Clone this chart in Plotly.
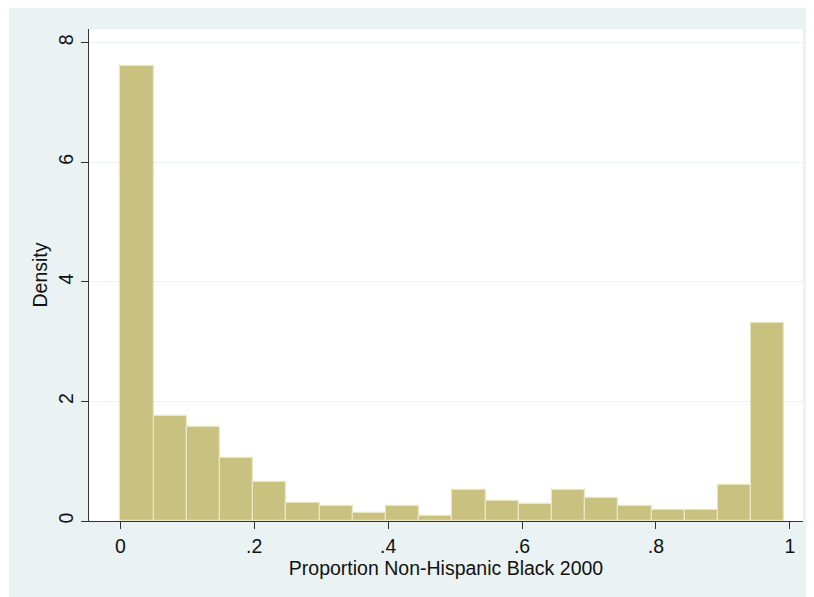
import numpy as np
import plotly.graph_objects as go

# Histogram of proportion Non-Hispanic Black 2000 (20 bins, density)
bin_start = 0.0
bin_width = 0.0496
densities = [7.61, 1.75, 1.57, 1.05, 0.66, 0.30, 0.25, 0.13, 0.25, 0.08,
             0.525, 0.34, 0.29, 0.525, 0.39, 0.25, 0.18, 0.18, 0.61, 3.32]
x_tick_vals = [0, 0.2, 0.4, 0.6, 0.8, 1]
x_tick_text = ["0", ".2", ".4", ".6", ".8", "1"]
y_tick_vals = [0, 2, 4, 6, 8]
y_tick_text = ["0", "2", "4", "6", "8"]

centers = bin_start + bin_width * (np.arange(len(densities)) + 0.5)

# page has an 8px body margin, so the figure is drawn at (8, 8)
W, H = 806, 589
L, R, T, B = 81, 11, 21, 76

fig = go.Figure()
fig.add_trace(go.Bar(
    x=centers, y=densities, width=bin_width,
    marker=dict(color="#C9C17F", line=dict(color="#EAE6C2", width=1.2)),
    hoverinfo="skip",
))

font = dict(family="Liberation Sans, Arial, sans-serif", size=20, color="#111111")

fig.update_layout(
    width=W, height=H,
    margin=dict(l=L, r=R, t=T, b=B),
    paper_bgcolor="white",
    plot_bgcolor="white",
    showlegend=False,
    bargap=0,
    font=font,
    xaxis=dict(
        range=[-0.0468, 1.0197],
        tickvals=x_tick_vals, ticktext=x_tick_text,
        ticks="outside", ticklen=7, tickwidth=1.3, tickcolor="#333333",
        showline=True, linecolor="#333333", linewidth=1.3,
        showgrid=False, zeroline=False,
        title=dict(text="Proportion Non-Hispanic Black 2000", standoff=0,
                   font=dict(size=19.5)),
        tickfont=dict(size=19.5),
    ),
    yaxis=dict(
        range=[0, 8.23],
        tickvals=y_tick_vals, ticktext=y_tick_text,
        tickangle=-90,
        ticks="outside", ticklen=7, tickwidth=1.3, tickcolor="#333333",
        showline=True, linecolor="#333333", linewidth=1.3,
        showgrid=True, gridcolor="#EAF2F3", gridwidth=1.2,
        zeroline=False,
        title=dict(text="Density", standoff=2, font=dict(size=19.5)),
        tickfont=dict(size=19.5),
    ),
)

# outer graph region background (Stata style)
pw, ph = W - L - R, H - T - B
fig.add_shape(type="rect", xref="paper", yref="paper",
              x0=(1 - L) / pw, x1=(W - L) / pw,
              y0=-B / ph, y1=1 + T / ph,
              fillcolor="#EAF2F3", line=dict(width=0), layer="below")
fig.add_shape(type="rect", xref="paper", yref="paper",
              x0=0, x1=1, y0=0, y1=1,
              fillcolor="white", line=dict(width=0), layer="below")

fig.write_html("out.html")
